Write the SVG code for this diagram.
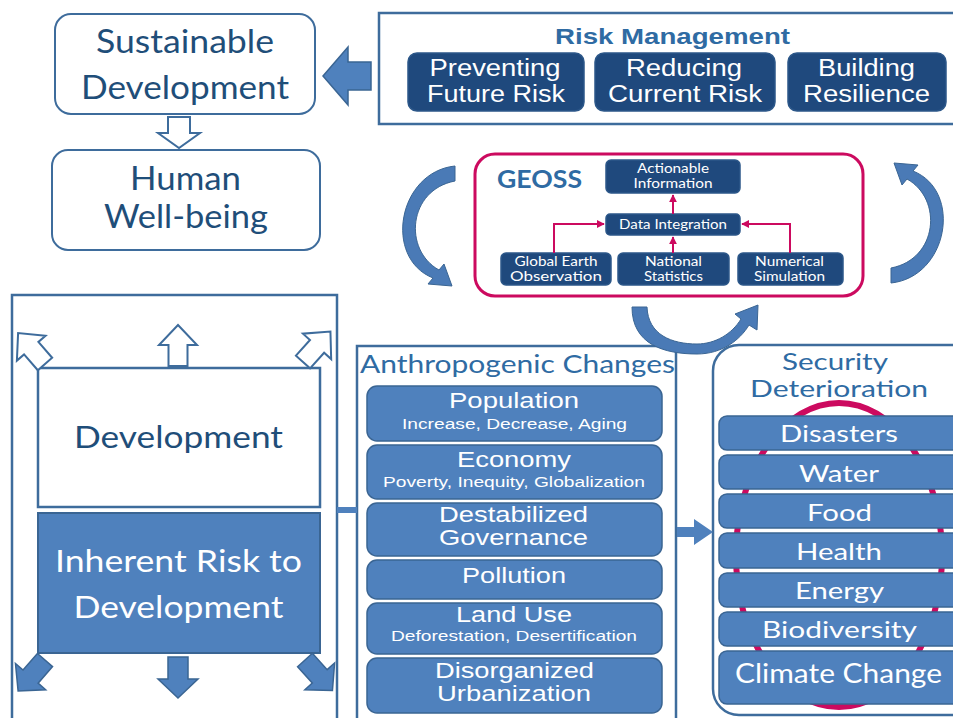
<svg xmlns="http://www.w3.org/2000/svg" width="953" height="718" viewBox="0 0 953 718">
<defs>
<style>
.frame{fill:#fff;stroke:#3e6c9c;stroke-width:2}
.navy{fill:#1f497d;stroke:#2c5789;stroke-width:1.5}
.acc{fill:#4f81bd;stroke:#3a6593;stroke-width:1.5}
.pk{fill:none;stroke:#cc0a5f;stroke-width:2}
.c{font-family:Lato,"Open Sans",sans-serif;text-anchor:middle}
.a{font-family:"Liberation Sans",Arial,sans-serif;text-anchor:middle}
.dk{fill:#1f4e79}
.tb{fill:#2f6ba3}
.w{fill:#fff}
.hollow{fill:#fff;stroke:#3e6c9c;stroke-width:2}
.solid{fill:#4f81bd;stroke:#3a6593;stroke-width:1.5}
.curve{fill:#4a7ab6;stroke:#3a6593;stroke-width:1}
</style>
<marker id="pa" viewBox="0 0 10 10" refX="9" refY="5" markerWidth="4" markerHeight="4" orient="auto"><path d="M0,0 L10,5 L0,10 Z" fill="#cc0a5f"/></marker>
<path id="upA" d="M-9.5,0 V-21 H-19 L0,-41 L19,-21 H9.5 V0 Z"/>
<path id="dnA" d="M-10,0 V22 H-20 L0,41 L20,22 H10 V0 Z"/>
<path id="curveL" d="M455,166 C398,172 383,258 433,278 L428,284 L452,286 L444,264 L439,270 C403,250 408,190 455,181 Z"/>
</defs>

<g id="sustainable-development">
<rect class="frame" x="55" y="14" width="260" height="100" rx="16"/>
<text class="c dk" x="185" y="53" font-size="32" textLength="178" lengthAdjust="spacingAndGlyphs">Sustainable</text>
<text class="c dk" x="185" y="99" font-size="32" textLength="208" lengthAdjust="spacingAndGlyphs">Development</text>
</g>

<g id="human-well-being">
<rect class="frame" x="52" y="150" width="268" height="100" rx="16"/>
<text class="c dk" x="185.5" y="190" font-size="32" textLength="111" lengthAdjust="spacingAndGlyphs">Human</text>
<text class="c dk" x="186" y="228" font-size="32" textLength="164" lengthAdjust="spacingAndGlyphs">Well-being</text>
</g>

<g id="risk-management">
<rect x="379" y="13" width="600" height="111" fill="#fff" stroke="#3e6c9c" stroke-width="2.5"/>
<text class="a tb" x="672.5" y="44" font-size="22.5" font-weight="bold" textLength="235" lengthAdjust="spacingAndGlyphs">Risk Management</text>
<rect class="navy" x="408" y="53" width="176" height="58" rx="9"/>
<text class="a w" x="495" y="76" font-size="23" textLength="131" lengthAdjust="spacingAndGlyphs">Preventing</text>
<text class="a w" x="496" y="102" font-size="23" textLength="138" lengthAdjust="spacingAndGlyphs">Future Risk</text>
<rect class="navy" x="595" y="53" width="180" height="58" rx="9"/>
<text class="a w" x="684" y="76" font-size="23" textLength="116" lengthAdjust="spacingAndGlyphs">Reducing</text>
<text class="a w" x="685" y="102" font-size="23" textLength="154" lengthAdjust="spacingAndGlyphs">Current Risk</text>
<rect class="navy" x="788" y="53" width="158" height="58" rx="9"/>
<text class="a w" x="866.5" y="76" font-size="23" textLength="97" lengthAdjust="spacingAndGlyphs">Building</text>
<text class="a w" x="866.5" y="102" font-size="23" textLength="127" lengthAdjust="spacingAndGlyphs">Resilience</text>
</g>

<g id="geoss">
<rect x="475" y="154" width="388" height="142" rx="20" fill="#fff" stroke="#cc0a5f" stroke-width="3"/>
<text class="c tb" x="539.5" y="188" font-size="25" font-weight="bold" textLength="85" lengthAdjust="spacingAndGlyphs">GEOSS</text>
<g id="actionable-information">
<rect class="navy" x="606" y="160" width="134" height="33" rx="5"/>
<text class="c w" x="673" y="173" font-size="13.5" textLength="72" lengthAdjust="spacingAndGlyphs">Actionable</text>
<text class="c w" x="673" y="188" font-size="13.5" textLength="79" lengthAdjust="spacingAndGlyphs">Information</text>
</g>
<g id="data-integration">
<rect class="navy" x="606" y="214" width="134" height="21" rx="4"/>
<text class="c w" x="673" y="229" font-size="14" textLength="108" lengthAdjust="spacingAndGlyphs">Data Integration</text>
</g>
<g id="global-earth-observation">
<rect class="navy" x="501" y="253" width="110" height="32" rx="5"/>
<text class="c w" x="556" y="266" font-size="13.5" textLength="83" lengthAdjust="spacingAndGlyphs">Global Earth</text>
<text class="c w" x="556" y="281" font-size="13.5" textLength="92" lengthAdjust="spacingAndGlyphs">Observation</text>
</g>
<g id="national-statistics">
<rect class="navy" x="618" y="253" width="111" height="32" rx="5"/>
<text class="c w" x="673.5" y="266" font-size="13.5" textLength="57" lengthAdjust="spacingAndGlyphs">National</text>
<text class="c w" x="673.5" y="281" font-size="13.5" textLength="59" lengthAdjust="spacingAndGlyphs">Statistics</text>
</g>
<g id="numerical-simulation">
<rect class="navy" x="738" y="253" width="105" height="32" rx="5"/>
<text class="c w" x="789.5" y="266" font-size="13.5" textLength="69" lengthAdjust="spacingAndGlyphs">Numerical</text>
<text class="c w" x="789.5" y="281" font-size="13.5" textLength="71" lengthAdjust="spacingAndGlyphs">Simulation</text>
</g>
</g>

<g id="development-frame">
<rect x="12" y="295" width="325" height="440" fill="#fff" stroke="#3e6c9c" stroke-width="2.5"/>
</g>
<g id="development">
<rect x="38" y="368" width="282" height="139" fill="#fff" stroke="#3e6c9c" stroke-width="2.5"/>
<text class="c dk" x="178.5" y="448" font-size="31" textLength="209" lengthAdjust="spacingAndGlyphs">Development</text>
</g>
<g id="inherent-risk">
<rect x="38" y="513" width="282" height="140" fill="#4f81bd" stroke="#3a6593" stroke-width="2"/>
<text class="c w" x="178.5" y="572" font-size="31" textLength="247" lengthAdjust="spacingAndGlyphs">Inherent Risk to</text>
<text class="c w" x="178.5" y="618" font-size="31" textLength="210" lengthAdjust="spacingAndGlyphs">Development</text>
</g>

<g id="anthropogenic-changes">
<rect x="357" y="346" width="319" height="390" fill="#fff" stroke="#3e6c9c" stroke-width="2.5"/>
<text class="c tb" x="517.5" y="373" font-size="25" textLength="315" lengthAdjust="spacingAndGlyphs">Anthropogenic Changes</text>
<g id="population">
<rect class="acc" x="367" y="386" width="295" height="55" rx="10"/>
<text class="a w" x="514" y="408" font-size="22" textLength="130" lengthAdjust="spacingAndGlyphs">Population</text>
<text class="a w" x="514.5" y="429" font-size="15.5" textLength="225" lengthAdjust="spacingAndGlyphs">Increase, Decrease, Aging</text>
</g>
<g id="economy">
<rect class="acc" x="367" y="445" width="295" height="54" rx="10"/>
<text class="a w" x="514" y="467" font-size="22" textLength="114" lengthAdjust="spacingAndGlyphs">Economy</text>
<text class="a w" x="514" y="487" font-size="15.5" textLength="262" lengthAdjust="spacingAndGlyphs">Poverty, Inequity, Globalization</text>
</g>
<g id="destabilized-governance">
<rect class="acc" x="367" y="503" width="295" height="53" rx="10"/>
<text class="a w" x="513.5" y="522" font-size="21.5" textLength="149" lengthAdjust="spacingAndGlyphs">Destabilized</text>
<text class="a w" x="513.5" y="545" font-size="21.5" textLength="149" lengthAdjust="spacingAndGlyphs">Governance</text>
</g>
<g id="pollution">
<rect class="acc" x="367" y="560" width="295" height="39" rx="10"/>
<text class="a w" x="514" y="583" font-size="22" textLength="104" lengthAdjust="spacingAndGlyphs">Pollution</text>
</g>
<g id="land-use">
<rect class="acc" x="367" y="603" width="295" height="51" rx="10"/>
<text class="a w" x="514" y="622" font-size="22" textLength="116" lengthAdjust="spacingAndGlyphs">Land Use</text>
<text class="a w" x="514" y="641" font-size="15.5" textLength="246" lengthAdjust="spacingAndGlyphs">Deforestation, Desertification</text>
</g>
<g id="disorganized-urbanization">
<rect class="acc" x="367" y="658" width="295" height="55" rx="10"/>
<text class="a w" x="514.5" y="678" font-size="21.5" textLength="159" lengthAdjust="spacingAndGlyphs">Disorganized</text>
<text class="a w" x="514" y="701" font-size="21.5" textLength="154" lengthAdjust="spacingAndGlyphs">Urbanization</text>
</g>
</g>

<g id="security-deterioration">
<rect x="713" y="345" width="280" height="370" rx="26" fill="#fff" stroke="#3e6c9c" stroke-width="2.5"/>
<ellipse cx="839" cy="555" rx="103" ry="152" fill="none" stroke="#cc0a5f" stroke-width="6"/>
<text class="c tb" x="835" y="370" font-size="23" textLength="106" lengthAdjust="spacingAndGlyphs">Security</text>
<text class="c tb" x="839" y="397" font-size="23" textLength="178" lengthAdjust="spacingAndGlyphs">Deterioration</text>
<g id="disasters"><rect class="acc" x="719" y="416" width="260" height="34" rx="8"/>
<text class="c w" x="839" y="442" font-size="24" textLength="118" lengthAdjust="spacingAndGlyphs">Disasters</text></g>
<g id="water"><rect class="acc" x="719" y="455" width="260" height="34" rx="8"/>
<text class="c w" x="839" y="482" font-size="24" textLength="80" lengthAdjust="spacingAndGlyphs">Water</text></g>
<g id="food"><rect class="acc" x="719" y="494" width="260" height="34" rx="8"/>
<text class="c w" x="839.5" y="521" font-size="24" textLength="65" lengthAdjust="spacingAndGlyphs">Food</text></g>
<g id="health"><rect class="acc" x="719" y="533" width="260" height="35" rx="8"/>
<text class="c w" x="839" y="560" font-size="24" textLength="86" lengthAdjust="spacingAndGlyphs">Health</text></g>
<g id="energy"><rect class="acc" x="719" y="573" width="260" height="34" rx="8"/>
<text class="c w" x="839.5" y="599" font-size="24" textLength="89" lengthAdjust="spacingAndGlyphs">Energy</text></g>
<g id="biodiversity"><rect class="acc" x="719" y="612" width="260" height="34" rx="8"/>
<text class="c w" x="839.5" y="638" font-size="24" textLength="155" lengthAdjust="spacingAndGlyphs">Biodiversity</text></g>
<g id="climate-change"><rect class="acc" x="719" y="651" width="260" height="53" rx="8"/>
<text class="c w" x="838.5" y="683" font-size="27" textLength="207" lengthAdjust="spacingAndGlyphs">Climate Change</text></g>
</g>

<g id="connectors">
<polygon class="solid" points="371,62 348,62 348,47 323,76 348,105 348,90 371,90"/>
<polygon class="hollow" points="168,117 190,117 190,133 200,133 179,148 158,133 168,133"/>
<path class="pk" d="M673,214 V195" marker-end="url(#pa)"/>
<path class="pk" d="M673,253 V237" marker-end="url(#pa)"/>
<path class="pk" d="M554,253 V224 H604" marker-end="url(#pa)"/>
<path class="pk" d="M790,253 V224 H742" marker-end="url(#pa)"/>
<use href="#curveL" class="curve"/>
<use href="#curveL" class="curve" transform="translate(1346,449) rotate(180)"/>
<path class="curve" d="M632,307 C632,345 665,354 697,354 C722,354 740,340 749,325 L757,330 L758,305 L735,314 L741,319 C732,334 715,344 697,344 C672,344 648,335 647,307 Z"/>
<use href="#upA" class="hollow" transform="translate(178,366)"/>
<use href="#upA" class="hollow" transform="translate(45,364) rotate(-41)"/>
<use href="#upA" class="hollow" transform="translate(303,362) rotate(42)"/>
<use href="#dnA" class="solid" transform="translate(178,657)"/>
<use href="#dnA" class="solid" transform="translate(45,660) rotate(41)"/>
<use href="#dnA" class="solid" transform="translate(305,660) rotate(-42)"/>
<rect x="337" y="507" width="20" height="6" fill="#4f81bd"/>
<polygon fill="#4f81bd" points="677,527 694,527 694,519 713,532 694,545 694,537 677,537"/>
</g>
</svg>
